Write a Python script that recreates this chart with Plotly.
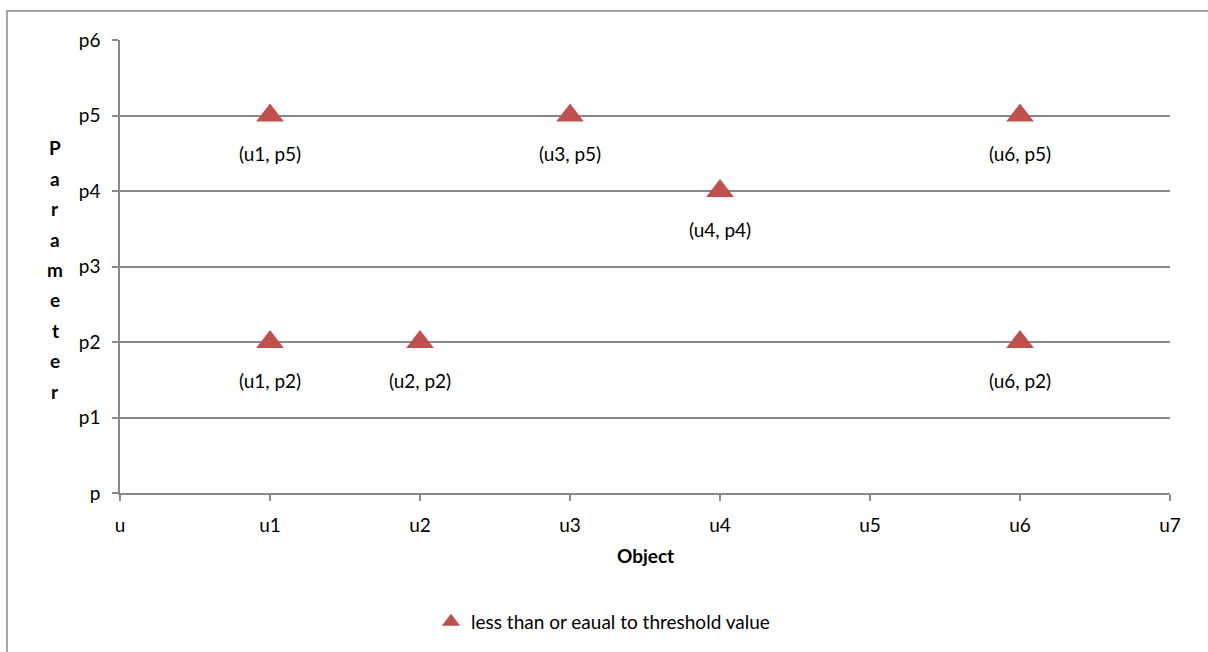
import plotly.graph_objects as go

# ---- data ----
x_vals = [1, 3, 6, 4, 1, 2, 6]
y_vals = [5, 5, 5, 4, 2, 2, 2]
point_labels = ["(u1, p5)", "(u3, p5)", "(u6, p5)", "(u4, p4)", "(u1, p2)", "(u2, p2)", "(u6, p2)"]
x_tick_vals = [0, 1, 2, 3, 4, 5, 6, 7]
x_tick_text = ["u", "u1", "u2", "u3", "u4", "u5", "u6", "u7"]
y_tick_vals = [0, 1, 2, 3, 4, 5, 6]
y_tick_text = ["p", "p1", "p2", "p3", "p4", "p5", "p6"]
series_name = "less than or eaual to threshold value"
x_title = "Object"
y_title = "Parameter"

FONT = "Lato, 'Open Sans', sans-serif"
FS = 19
GRID = "#898989"
RED = "#C0504D"

W, H = 1208, 652
L, R, T, B = 120, 38, 40, 158
PW, PH = W - L - R, H - T - B

fig = go.Figure()
fig.add_trace(go.Scatter(
    x=x_vals, y=y_vals, mode="markers", name=series_name,
    marker=dict(symbol="triangle-up", size=24, color=RED, line=dict(width=0)),
    showlegend=True, cliponaxis=False,
))

annotations = []
for xv, yv, t in zip(x_vals, y_vals, point_labels):
    annotations.append(dict(x=xv, y=yv, xref="x", yref="y", text=t, showarrow=False,
                            yshift=-38, font=dict(family=FONT, size=FS, color="#000")))

# stacked vertical y title letters
letters = list(y_title)
top_px = 148
step = 30.5
for i, ch in enumerate(letters):
    py = top_px + i * step
    annotations.append(dict(x=(55 - L) / PW, y=(T + PH - py) / PH, xref="paper", yref="paper",
                            text="<b>%s</b>" % ch, showarrow=False, xanchor="center", yanchor="middle",
                            font=dict(family=FONT, size=FS, color="#000")))

# x title
annotations.append(dict(x=(645 - L) / PW, y=(T + PH - 557) / PH, xref="paper", yref="paper",
                        text="<b>%s</b>" % x_title, showarrow=False, xanchor="center", yanchor="middle",
                        font=dict(family=FONT, size=FS, color="#000")))

fig.update_layout(
    width=W, height=H,
    margin=dict(l=L, r=R, t=T, b=B),
    paper_bgcolor="white", plot_bgcolor="white",
    font=dict(family=FONT, size=FS, color="#000"),
    annotations=annotations,
    showlegend=True,
    legend=dict(x=(603 - L) / PW, y=(T + PH - 622) / PH, xanchor="center", yanchor="middle",
                orientation="h", font=dict(family=FONT, size=FS, color="#000"),
                bgcolor="rgba(0,0,0,0)", itemwidth=30),
    shapes=[dict(type="rect", xref="paper", yref="paper",
                 x0=(7 - L) / PW, x1=(1230 - L) / PW,
                 y0=(T + PH - 680) / PH, y1=(T + PH - 11) / PH,
                 line=dict(color=GRID, width=1.5), fillcolor="rgba(0,0,0,0)", layer="below")],
)

fig.update_xaxes(range=[0, 7], tickmode="array", tickvals=x_tick_vals, ticktext=x_tick_text,
                 showgrid=False, zeroline=False, showline=True, linecolor=GRID, linewidth=1.5,
                 ticks="outside", ticklen=6, tickcolor=GRID, tickwidth=1.5,
                 ticklabelstandoff=8, tickfont=dict(family=FONT, size=FS, color="#000"))
fig.update_yaxes(range=[0, 6], tickmode="array", tickvals=y_tick_vals, ticktext=y_tick_text,
                 showgrid=True, gridcolor=GRID, gridwidth=1.5, zeroline=False,
                 showline=True, linecolor=GRID, linewidth=1.5,
                 ticks="outside", ticklen=6, tickcolor=GRID, tickwidth=1.5,
                 ticklabelstandoff=8, tickfont=dict(family=FONT, size=FS, color="#000"))

fig.write_html("out.html")
